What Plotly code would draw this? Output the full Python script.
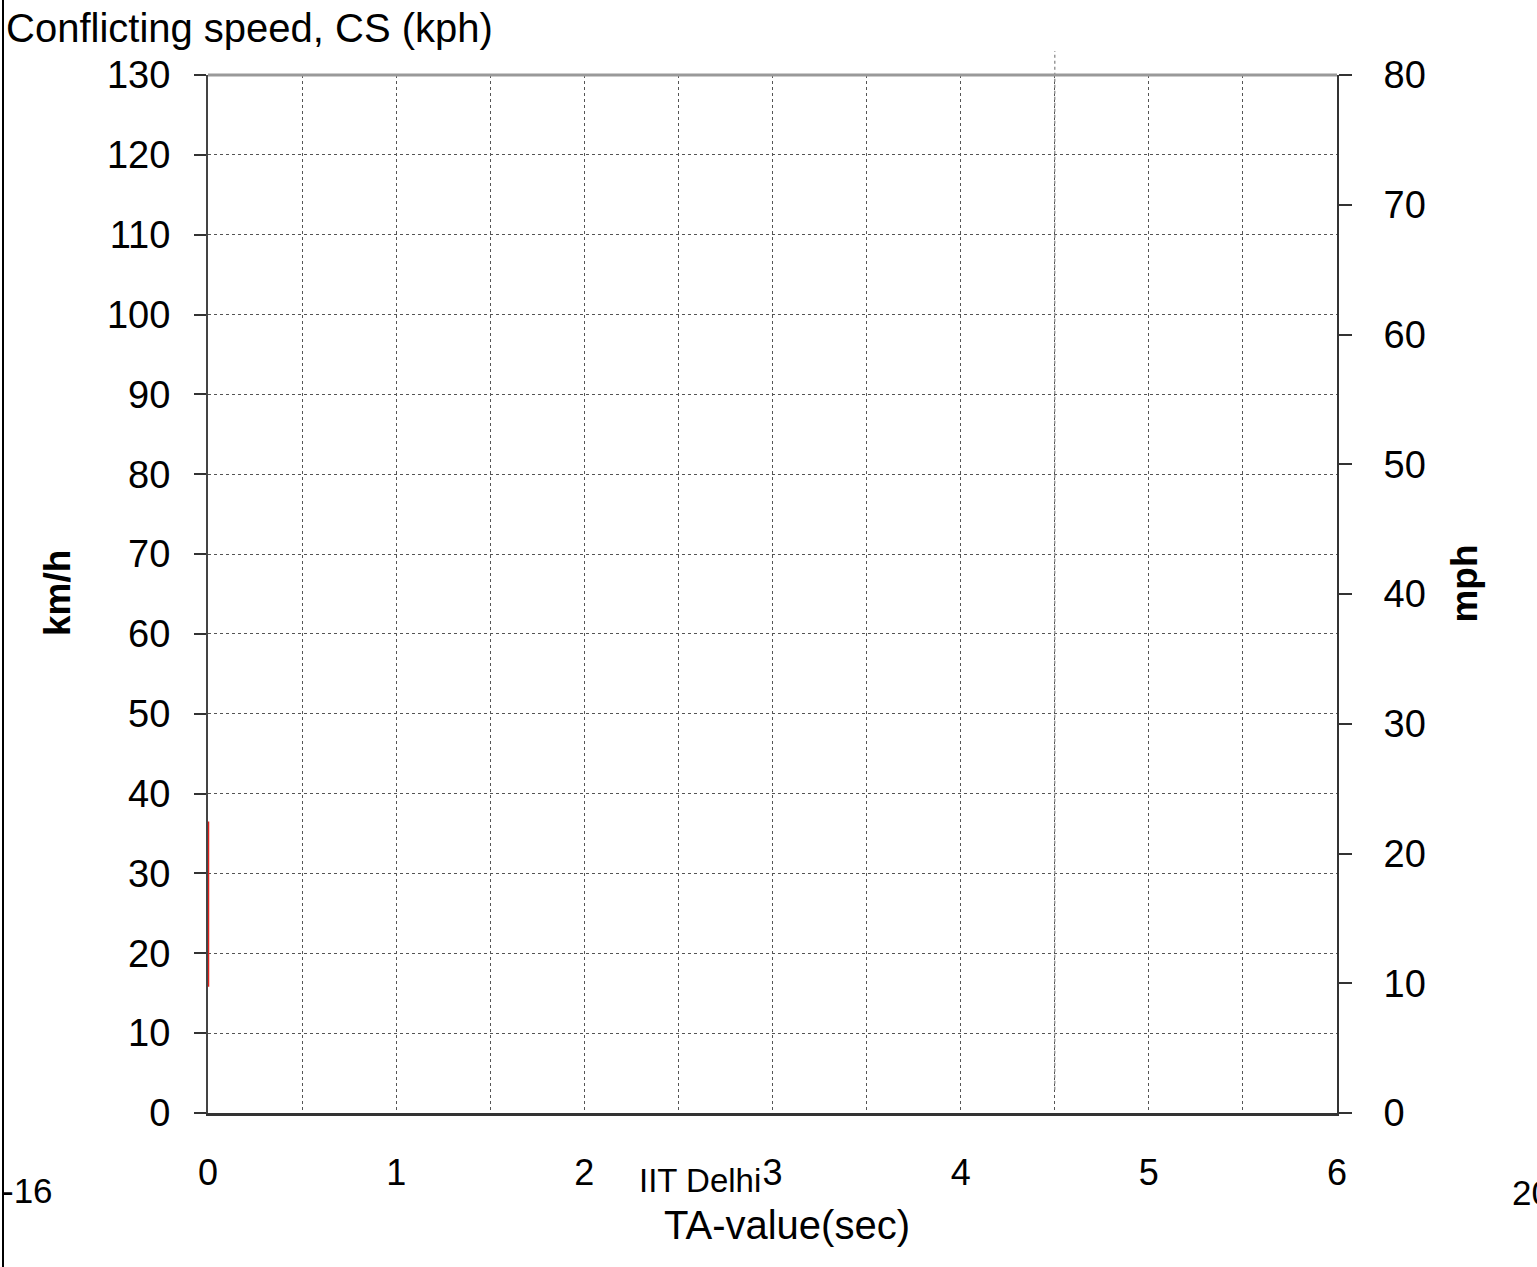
import plotly.graph_objects as go

# ---- data ----
x_ticks = [0, 1, 2, 3, 4, 5, 6]
x_tick_labels = ["0", "1", "2", "3", "4", "5", "6"]
kmh_ticks = list(range(0, 131, 10))
mph_ticks = list(range(0, 81, 10))

# short red segment on the left axis (TA = 0)
red_x = [0, 0]
red_y = [15.8, 36.5]

# thin vertical marker at TA = 4.5 sec (km/h range it spans)
marker_x = 4.5
marker_y = [2.9, 133.0]

x_range = [0, 6]
kmh_range = [0, 130]
mph_range = [0, 80]

FONT = "Liberation Sans, Arial, sans-serif"

fig = go.Figure()
fig.add_trace(go.Scatter(x=red_x, y=red_y, mode="lines",
                         line=dict(color="#e0201b", width=2.5),
                         showlegend=False, hoverinfo="skip"))
# dummy trace to activate secondary axis
fig.add_trace(go.Scatter(x=[None], y=[None], yaxis="y2", showlegend=False))

fig.update_layout(
    width=1537, height=1267,
    margin=dict(l=208, r=200, t=75, b=154),
    paper_bgcolor="white", plot_bgcolor="white",
    font=dict(family=FONT, color="black"),
    showlegend=False,
    xaxis=dict(range=x_range, tickvals=x_ticks, ticktext=x_tick_labels,
               showgrid=True, gridcolor="#555", griddash="dot", gridwidth=1,
               minor=dict(dtick=0.5, showgrid=True, gridcolor="#555",
                          griddash="dot", gridwidth=1),
               ticks="", showline=True, linecolor="#333", linewidth=2.5,
               zeroline=False, tickfont=dict(size=36),
               ticklabelstandoff=26, layer="below traces"),
    yaxis=dict(range=kmh_range, tickvals=kmh_ticks,
               showgrid=True, gridcolor="#555", griddash="dot", gridwidth=1,
               ticks="outside", ticklen=12, tickcolor="#333", tickwidth=1.5,
               showline=True, linecolor="#444", linewidth=2,
               zeroline=False, tickfont=dict(size=38),
               ticklabelstandoff=16, layer="below traces"),
    yaxis2=dict(range=mph_range, tickvals=mph_ticks, overlaying="y",
                side="right", showgrid=False, zeroline=False,
                ticks="outside", ticklen=13, tickcolor="#333", tickwidth=1.5,
                showline=True, linecolor="#333", linewidth=2,
                tickfont=dict(size=38), ticklabelstandoff=24),
)

shapes = [
    # gray top border
    dict(type="line", xref="paper", yref="paper", x0=0, x1=1, y0=1, y1=1,
         line=dict(color="#999", width=3)),
    # vertical marker at 4.5 sec
    dict(type="line", xref="x", yref="paper", x0=marker_x, x1=marker_x,
         y0=marker_y[0] / kmh_range[1], y1=marker_y[1] / kmh_range[1],
         line=dict(color="#999", width=1.5, dash="dot")),
    # slide frame line on the far left
    dict(type="line", xref="paper", yref="paper",
         x0=-205 / 1129, x1=-205 / 1129, y0=-0.15, y1=1.08,
         line=dict(color="black", width=2)),
]
fig.update_layout(shapes=shapes)

ann = [
    dict(text="Conflicting speed, CS (kph)", x=-204 / 1129, y=1.0453,
         xanchor="left", yanchor="middle", font=dict(size=40)),
    dict(text="<b>km/h</b>", x=-150 / 1129, y=0.501, textangle=-90,
         xanchor="center", yanchor="middle", font=dict(size=37)),
    dict(text="<b>mph</b>", x=(1465 - 208) / 1129, y=0.51, textangle=-90,
         xanchor="center", yanchor="middle", font=dict(size=37)),
    dict(text="TA-value(sec)", x=(787 - 208) / 1129, y=(1113 - 1225) / 1038,
         xanchor="center", yanchor="middle", font=dict(size=40)),
    dict(text="IIT Delhi", x=(637 - 208) / 1129, y=(1113 - 1180) / 1038,
         xanchor="left", yanchor="middle", font=dict(size=33)),
    dict(text="-16", x=(0 - 208) / 1129, y=(1113 - 1190) / 1038,
         xanchor="left", yanchor="middle", font=dict(size=35)),
    dict(text="20", x=(1510 - 208) / 1129, y=(1113 - 1192) / 1038,
         xanchor="left", yanchor="middle", font=dict(size=35)),
]
for a in ann:
    a.update(xref="paper", yref="paper", showarrow=False)
fig.update_layout(annotations=ann)

fig.write_html("out.html")
